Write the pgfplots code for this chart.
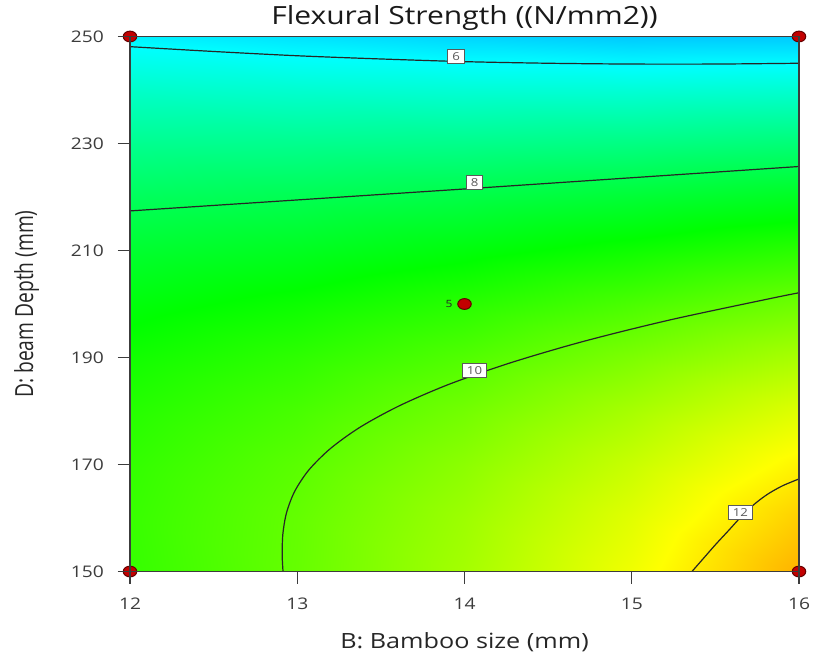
\documentclass[border=0pt]{standalone}
\usepackage{fontspec}
\setmainfont{Open Sans}
\newfontfamily\osx[FakeStretch=1.2]{Open Sans}
\usepackage{pgfplots}
\pgfplotsset{compat=1.18}
\definecolor{dotred}{RGB}{195,0,0}
\definecolor{dotedge}{RGB}{100,0,0}
\definecolor{axgray}{RGB}{60,60,60}
\definecolor{boxgray}{RGB}{90,90,90}
\begin{document}
\begin{tikzpicture}
\begin{axis}[
  view={0}{90},
  scale only axis,
  width=334.5pt, height=267.5pt,
  xmin=12, xmax=16, ymin=150, ymax=250,
  xtick={12,13,14,15,16}, ytick={150,170,190,210,230,250},
  ztick=\empty,
  xtick pos=left, ytick pos=left,
  tick align=outside, major tick length=6pt,
  every tick/.style={axgray, line width=0.7pt},
  axis line style={axgray, line width=0.8pt},
  /pgf/number format/assume math mode=true,
  tick label style={font=\osx\fontsize{8}{10}\selectfont, text=axgray},
  xticklabel style={yshift=-3.75pt},
  yticklabel style={xshift=-3.5pt},
  title={Flexural Strength ((N/mm2))},
  title style={font=\osx\fontsize{12.5}{15}\selectfont, text=black!90, at={(axis description cs:0.5,1)}, anchor=base, yshift=-0.25pt, inner sep=0pt},
  xlabel={B: Bamboo size (mm)},
  xlabel style={font=\osx\fontsize{10.5}{13}\selectfont, text=black!85, at={(axis description cs:0.5,-0.1442)}, anchor=base, inner sep=0pt},
  ylabel={\scalebox{1}[1.3]{D: beam Depth (mm)}},
  ylabel style={font=\fontsize{9.6}{12}\selectfont, text=black!85, at={(axis description cs:-0.1448,0.5)}, anchor=base, inner sep=0pt},
  colormap={de}{rgb255=(0,0,255) rgb255=(0,255,255) rgb255=(0,255,0) rgb255=(255,255,0) rgb255=(255,0,0)},
  point meta min=3.1, point meta max=14.7,
  set layers, axis on top,
  clip=false,
]
\addplot3[surf, shader=interp, mesh/cols=5] table {
x y z
12 150 9.50
13 150 10.05
14 150 10.77
15 150 11.64
16 150 12.68
12 160 9.53
13 160 10.03
14 160 10.68
15 160 11.46
16 160 12.35
12 170 9.47
13 170 9.92
14 170 10.49
15 170 11.18
16 170 11.93
12 180 9.32
13 180 9.71
14 180 10.20
15 180 10.80
16 180 11.43
12 190 9.09
13 190 9.42
14 190 9.82
15 190 10.32
16 190 10.83
12 200 8.77
13 200 9.03
14 200 9.35
15 200 9.74
16 200 10.15
12 210 8.36
13 210 8.54
14 210 8.78
15 210 9.07
16 210 9.38
12 220 7.86
13 220 7.97
14 220 8.11
15 220 8.30
16 220 8.52
12 230 7.28
13 230 7.30
14 230 7.34
15 230 7.43
16 230 7.57
12 240 6.61
13 240 6.54
14 240 6.48
15 240 6.47
16 240 6.53
12 250 5.86
13 250 5.69
14 250 5.53
15 250 5.40
16 250 5.41
};
% contour 6
\addplot[black!85, line width=0.6pt, smooth] coordinates {
(12,248.1) (12.5,247.2) (13,246.4) (13.5,245.8) (14,245.3) (14.5,245.0) (15,244.85) (15.5,244.85) (16,245.0)};
% contour 8
\addplot[black!85, line width=0.6pt] coordinates {
(12,217.4) (14,221.5) (16,225.7)};
% contour 10
\addplot[black!85, line width=0.6pt, smooth] coordinates {
(12.915,150) (12.91,153) (12.914,157) (12.936,161) (12.985,165) (13.07,169) (13.199,173) (13.377,177) (13.612,181) (13.908,185) (14.274,189) (14.71,193) (15.225,197) (15.825,201) (16,202.1)};
% contour 12
\addplot[black!85, line width=0.6pt, smooth] coordinates {
(15.36,150) (15.43,152.5) (15.5,155) (15.58,157.7) (15.65,160.1) (15.73,162.5) (15.81,164.4) (15.9,166) (16,167.3)};
% contour labels
\begin{scope}[every node/.style={fill=white, draw=boxgray, line width=0.5pt, inner xsep=2.2pt, inner ysep=0.8pt, minimum height=7pt, font=\osx\fontsize{5.5}{6}\selectfont, text=boxgray}]
\node at (axis cs:13.95,246.3) {6};
\node at (axis cs:14.06,222.7) {8};
\node at (axis cs:14.06,187.6) {10};
\node at (axis cs:15.65,161.0) {12};
\end{scope}
% design points
\addplot[on layer=axis foreground, only marks, mark=*, mark size=2.7pt, mark options={xscale=1.25, fill=dotred, draw=dotedge, line width=0.5pt}] coordinates {
(12,150) (12,250) (16,150) (16,250) (14,200)};
\node[font=\osx\fontsize{5}{6}\selectfont, text=black!85] at (axis cs:13.907,200) {5};
\coordinate (SW) at (axis description cs:0,0);
\coordinate (NE) at (axis description cs:1,1);
\end{axis}
\path ([shift={(-65pt,-41.75pt)}]SW) rectangle ([shift={(15.5pt,18.25pt)}]NE);
\end{tikzpicture}
\end{document}
